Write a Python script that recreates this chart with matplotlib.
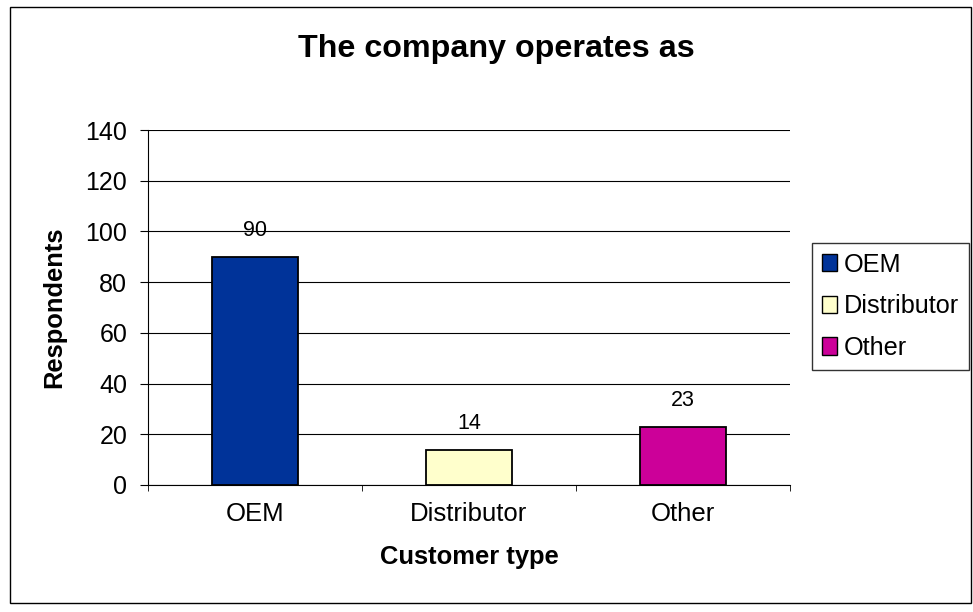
import matplotlib
matplotlib.use("Agg")
import matplotlib.pyplot as plt
from matplotlib.patches import Rectangle, Patch

categories = ["OEM", "Distributor", "Other"]
values = [90, 14, 23]
colors = ["#003399", "#FFFFCC", "#CC0099"]
yticks = [0, 20, 40, 60, 80, 100, 120, 140]

plt.rcParams['font.family'] = ['Liberation Sans', 'DejaVu Sans']

fig = plt.figure(figsize=(9.73, 6.12), dpi=100)
fig.patches.append(Rectangle((10/973, 1-603/612), 961/973, 596/612, transform=fig.transFigure,
                             fill=False, edgecolor='black', linewidth=1))
ax = fig.add_axes([148/973, 1-485/612, 642/973, 355/612])

x = list(range(len(categories)))
bars = ax.bar(x, values, width=0.40, color=colors, edgecolor='black', linewidth=1.3, zorder=3)
for xi, v in zip(x, values):
    ax.text(xi, v + 8, str(v), ha='center', va='baseline', fontsize=15.5)

ax.set_xlim(-0.5, 2.5)
ax.set_ylim(0, 140)
ax.set_yticks(yticks)
ax.set_yticklabels([str(t) for t in yticks], fontsize=18)
ax.yaxis.grid(True, color='black', linewidth=0.8, zorder=0)
ax.set_axisbelow(True)

ax.set_xticks(x)
ax.set_xticklabels(categories, fontsize=18.5)
ax.tick_params(axis='x', which='major', length=0, pad=12)
ax.set_xticks([-0.5, 0.5, 1.5, 2.5], minor=True)
ax.tick_params(axis='x', which='minor', length=4.5, direction='out')
ax.tick_params(axis='y', length=6, direction='out', pad=9)

for s in ['top', 'right']:
    ax.spines[s].set_visible(False)
ax.spines['left'].set_color('black')
ax.spines['bottom'].set_color('black')

ax.set_xlabel("Customer type", fontsize=18.4, fontweight='bold', labelpad=14)
ax.set_ylabel("Respondents", fontsize=18.4, fontweight='bold', labelpad=14)
fig.text(496/973, 1-57/612, "The company operates as", ha='center', va='baseline',
         fontsize=23.2, fontweight='bold')

handles = [Patch(facecolor=c, edgecolor='black', label=l) for c, l in zip(colors, categories)]
leg = fig.legend(handles=handles, loc='upper left', bbox_to_anchor=(812/973, 1-243/612),
                 fontsize=18.2, frameon=True, fancybox=False, edgecolor='black',
                 handlelength=0.6, handleheight=0.68, handletextpad=0.28, borderpad=0.38,
                 labelspacing=0.7, borderaxespad=0)
leg.get_frame().set_linewidth(1)

fig.savefig("out.png", dpi=100)
